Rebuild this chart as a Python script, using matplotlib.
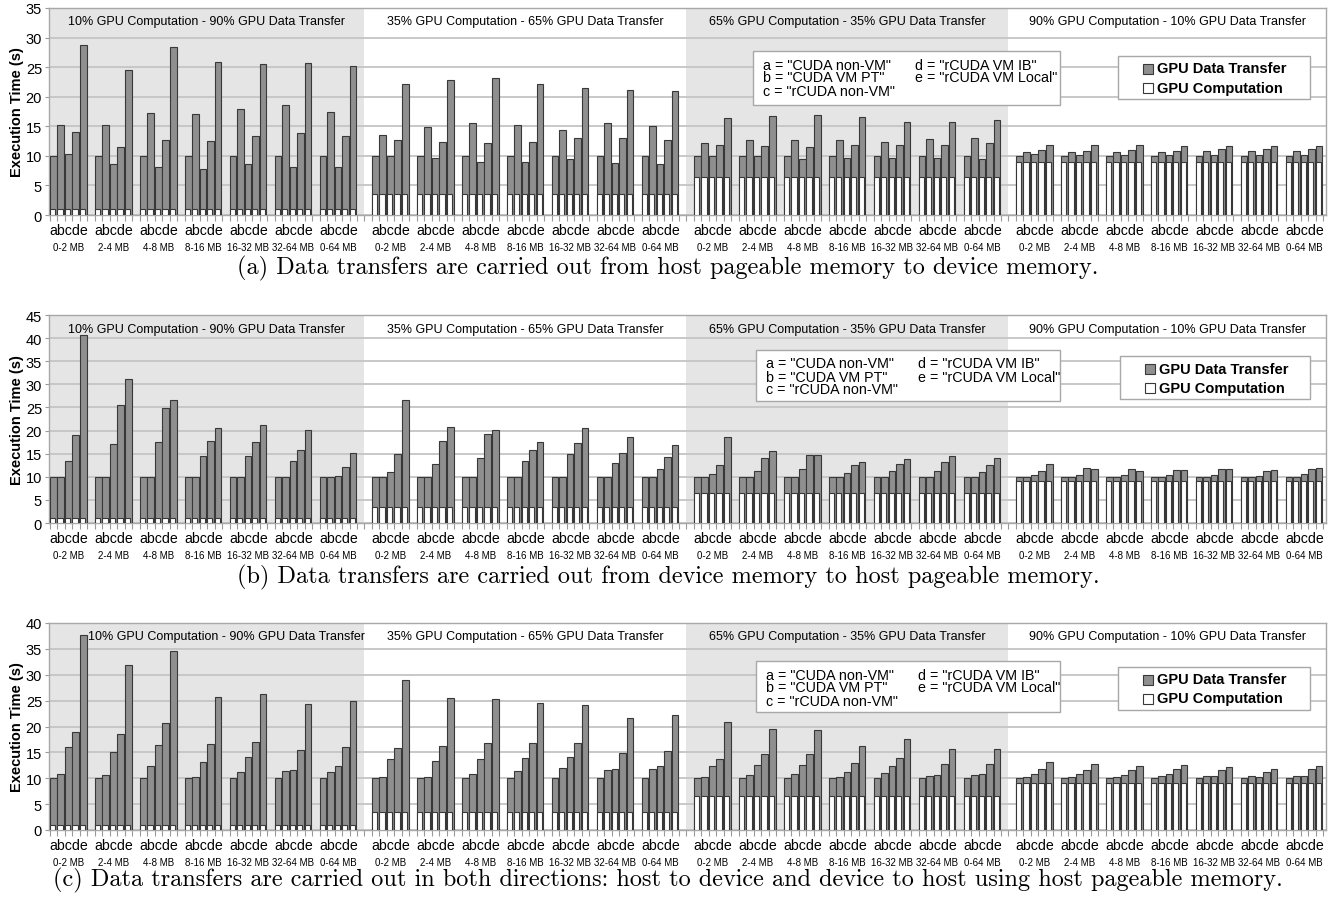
import matplotlib
matplotlib.use("Agg")
import matplotlib.pyplot as plt
from matplotlib.patches import Rectangle
from matplotlib.transforms import blended_transform_factory

W, H = 1336, 904

bar_keys = "abcde"
size_bins = ["0-2 MB", "2-4 MB", "4-8 MB", "8-16 MB", "16-32 MB", "32-64 MB", "0-64 MB"]
scenarios = ["10% GPU Computation - 90% GPU Data Transfer",
             "35% GPU Computation - 65% GPU Data Transfer",
             "65% GPU Computation - 35% GPU Data Transfer",
             "90% GPU Computation - 10% GPU Data Transfer"]
compute_time = [1.0, 3.5, 6.5, 9.0]
captions = ["(a) Data transfers are carried out from host pageable memory to device memory.",
            "(b) Data transfers are carried out from device memory to host pageable memory.",
            "(c) Data transfers are carried out in both directions: host to device and device to host using host pageable memory."]
legend_lines = ['a = "CUDA non-VM"', 'b = "CUDA VM PT"', 'c = "rCUDA non-VM"',
                'd = "rCUDA VM IB"', 'e = "rCUDA VM Local"']

# total execution time (s), one row of a..e per size bin
# (a) host pageable -> device
h2d_10 = [[10, 15.2, 10.3, 14.1, 28.7], [10, 15.2, 8.6, 11.5, 24.6], [10, 17.2, 8.2, 12.7, 28.4],
          [10, 17.0, 7.7, 12.5, 25.9], [10, 17.9, 8.6, 13.4, 25.5], [10, 18.6, 8.2, 13.9, 25.7],
          [10, 17.5, 8.1, 13.4, 25.2]]
h2d_35 = [[10, 13.6, 9.9, 12.7, 22.2], [10, 14.8, 9.7, 12.3, 22.8], [10, 15.6, 8.9, 12.1, 23.2],
          [10, 15.3, 9.0, 12.4, 22.1], [10, 14.4, 9.4, 13.0, 21.4], [10, 15.6, 8.8, 13.0, 21.2],
          [10, 15.1, 8.7, 12.7, 20.9]]
h2d_65 = [[10, 12.1, 10.0, 11.9, 16.4], [10, 12.7, 10.0, 11.6, 16.8], [10, 12.7, 9.5, 11.5, 16.9],
          [10, 12.7, 9.6, 11.8, 16.5], [10, 12.3, 9.7, 11.8, 15.8], [10, 12.8, 9.6, 11.9, 15.8],
          [10, 13.0, 9.5, 12.1, 16.0]]
h2d_90 = [[10, 10.6, 10.3, 11.0, 11.9], [10, 10.6, 10.2, 10.9, 11.8], [10, 10.7, 10.2, 11.0, 11.8],
          [10, 10.7, 10.2, 10.9, 11.6], [10, 10.8, 10.2, 11.2, 11.6], [10, 10.9, 10.1, 11.2, 11.6],
          [10, 10.9, 10.2, 11.2, 11.7]]
# (b) device -> host pageable
d2h_10 = [[10, 10, 13.5, 19.0, 40.6], [10, 10, 17.1, 25.6, 31.1], [10, 10, 17.5, 24.9, 26.7],
          [10, 10, 14.6, 17.8, 20.5], [10, 10, 14.4, 17.5, 21.3], [10, 10, 13.4, 15.8, 20.2],
          [10, 10, 10.1, 12.1, 15.2]]
d2h_35 = [[10, 10, 11.0, 14.9, 26.7], [10, 10, 12.7, 17.7, 20.8], [10, 10, 14.0, 19.2, 20.2],
          [10, 10, 13.5, 15.8, 17.6], [10, 10, 14.9, 17.3, 20.5], [10, 10, 13.0, 15.1, 18.5],
          [10, 10, 11.7, 14.3, 16.9]]
d2h_65 = [[10, 10, 10.5, 12.6, 18.7], [10, 10, 11.2, 14.1, 15.5], [10, 10, 11.7, 14.8, 14.8],
          [10, 10, 10.8, 12.5, 13.1], [10, 10, 11.2, 12.7, 13.8], [10, 10, 11.3, 13.1, 14.6],
          [10, 10, 11.0, 12.6, 14.0]]
d2h_90 = [[10, 10, 10.3, 11.3, 12.7], [10, 10, 10.3, 11.8, 11.6], [10, 10, 10.3, 11.6, 11.2],
          [10, 10, 10.3, 11.5, 11.5], [10, 10, 10.3, 11.6, 11.6], [10, 10, 10.1, 11.3, 11.4],
          [10, 10, 10.6, 11.6, 11.8]]
# (c) both directions
both_10 = [[10, 10.9, 16.0, 18.9, 37.6], [10, 10.6, 15.0, 18.6, 31.9], [10, 12.3, 16.5, 20.7, 34.6],
           [10, 10.3, 13.2, 16.7, 25.7], [10, 11.3, 14.2, 17.1, 26.3], [10, 11.4, 11.6, 15.5, 24.4],
           [10, 11.3, 12.4, 16.0, 24.9]]
both_35 = [[10, 10.3, 13.8, 15.9, 29.0], [10, 10.3, 13.3, 16.3, 25.5], [10, 10.8, 13.8, 16.9, 25.3],
           [10, 11.4, 13.9, 16.9, 24.6], [10, 12.0, 14.2, 16.9, 24.1], [10, 11.5, 11.8, 14.9, 21.7],
           [10, 11.7, 12.3, 15.3, 22.2]]
both_65 = [[10, 10.3, 12.4, 13.7, 20.8], [10, 10.6, 12.5, 14.6, 19.6], [10, 10.9, 12.6, 14.6, 19.4],
           [10, 10.3, 11.3, 13.0, 16.2], [10, 11.1, 12.4, 14.0, 17.5], [10, 10.5, 10.6, 12.7, 15.6],
           [10, 10.6, 10.9, 12.7, 15.6]]
both_90 = [[10, 10.2, 10.8, 11.7, 13.2], [10, 10.2, 10.8, 11.6, 12.8], [10, 10.2, 10.6, 11.6, 12.4],
           [10, 10.4, 10.8, 11.8, 12.5], [10, 10.4, 10.5, 11.5, 12.1], [10, 10.4, 10.2, 11.3, 11.8],
           [10, 10.5, 10.5, 11.7, 12.3]]

panels = [[h2d_10, h2d_35, h2d_65, h2d_90],
          [d2h_10, d2h_35, d2h_65, d2h_90],
          [both_10, both_35, both_65, both_90]]
y_max = [35, 45, 40]

# layout (pixels)
ax_left, ax_right = 49, 1326
ax_tops = [9, 316, 624]
ax_bottoms = [216, 524, 831]
caption_y = [268, 577, 880]
box1 = [(753, 52, 1060, 106), (756, 351, 1060, 402), (756, 662, 1060, 713)]
box2 = [(1118, 57, 1310, 100), (1120, 357, 1310, 400), (1118, 668, 1310, 711)]
title_shift = [[0, 0, 0, 0], [0, 0, 0, 0], [2.6, 0, 0, 0]]

GRAY = "#8f8f8f"
EDGE = "#383838"
SHADE = "#e5e5e5"
SANS = "Liberation Sans"

def fx(x):
    return x / W

def fy(y):
    return 1 - y / H

fig = plt.figure(figsize=(W / 100, H / 100), dpi=100)

for p, groups in enumerate(panels):
    ax = fig.add_axes([fx(ax_left), fy(ax_bottoms[p]), (ax_right - ax_left) / W,
                       (ax_bottoms[p] - ax_tops[p]) / H])
    xs, tot, comp = [], [], []
    for g, bins in enumerate(groups):
        for k, vals in enumerate(bins):
            for j, v in enumerate(vals):
                xs.append(g * 43 + k * 6 + j)
                tot.append(v)
                comp.append(compute_time[g])
    ax.bar(xs, tot, width=0.9, align="edge", color=GRAY, edgecolor=EDGE, linewidth=0.8, zorder=3)
    ax.bar(xs, comp, width=0.7, align="edge", color="white", edgecolor=EDGE, linewidth=0.8, zorder=4)

    xmin, xmax = -0.13, 170.4
    ax.set_xlim(xmin, xmax)
    ax.set_ylim(0, y_max[p])
    tr = blended_transform_factory(ax.transData, ax.transAxes)
    for g in range(4):
        lo = xmin if g == 0 else g * 43 - 1
        hi = xmax if g == 3 else g * 43 + 42
        if g % 2 == 0:
            ax.axvspan(lo, hi, color=SHADE, zorder=0, lw=0)
        ax.text((lo + hi) / 2 + title_shift[p][g], 0.935, scenarios[g], transform=tr,
                ha="center", va="center", fontsize=9, family=SANS, zorder=6)
        for k in range(7):
            cx = g * 43 + k * 6 + 2.5
            ax.annotate(bar_keys, xy=(cx, 0), xycoords=tr, xytext=(0, -15),
                        textcoords="offset pixels", ha="center", va="center",
                        fontsize=10.2, family=SANS)
            ax.annotate(size_bins[k], xy=(cx, 0), xycoords=tr, xytext=(0, -32),
                        textcoords="offset pixels", ha="center", va="center",
                        fontsize=7.0, family=SANS)

    ax.set_yticks(range(0, y_max[p] + 1, 5))
    ax.set_xticks([])
    ax.set_xticks(range(0, 171), minor=True)
    ax.tick_params(axis="x", which="minor", length=4, color="#9a9a9a", width=0.8)
    ax.tick_params(axis="y", length=3, color="#9a9a9a", pad=2, labelsize=10.5)
    for lab in ax.get_yticklabels():
        lab.set_family(SANS)
    ax.yaxis.grid(True, color="#c4c4c4", linewidth=1.3)
    ax.set_axisbelow(True)
    for s in ax.spines.values():
        s.set_color("#a8a8a8")
        s.set_linewidth(1.0)

    fig.text(fx(17), fy((ax_tops[p] + ax_bottoms[p]) / 2), "Execution Time (s)", rotation=90,
             ha="center", va="center", fontsize=10.5, fontweight="bold", family=SANS)

    # legend box with series letters
    x0, y0, x1, y1 = box1[p]
    fig.add_artist(Rectangle((fx(x0), fy(y1)), (x1 - x0) / W, (y1 - y0) / H,
                             transform=fig.transFigure, facecolor="white",
                             edgecolor="#a8a8a8", linewidth=1.0, zorder=5))
    for i, line in enumerate(legend_lines):
        col, row = divmod(i, 3)
        fig.text(fx(x0 + 10 + col * 152), fy(y0 + 13.5 + row * 13), line, ha="left",
                 va="center", fontsize=10.3, family=SANS, zorder=6)

    # legend box with stack parts
    x0, y0, x1, y1 = box2[p]
    fig.add_artist(Rectangle((fx(x0), fy(y1)), (x1 - x0) / W, (y1 - y0) / H,
                             transform=fig.transFigure, facecolor="white",
                             edgecolor="#a8a8a8", linewidth=1.0, zorder=5))
    for i, (name, colr) in enumerate([("GPU Data Transfer", GRAY), ("GPU Computation", "white")]):
        yc = y0 + 12.5 + i * 19
        fig.add_artist(Rectangle((fx(x0 + 25), fy(yc + 5)), 10 / W, 10 / H,
                                 transform=fig.transFigure, facecolor=colr,
                                 edgecolor=EDGE, linewidth=0.8, zorder=6))
        fig.text(fx(x0 + 39), fy(yc), name, ha="left", va="center", fontsize=10.5,
                 fontweight="bold", family=SANS, zorder=6)

    fig.text(0.5, fy(caption_y[p]), captions[p], ha="center", va="center",
             fontsize=17.5, family="cmr10")

fig.savefig("out.png", dpi=100)
